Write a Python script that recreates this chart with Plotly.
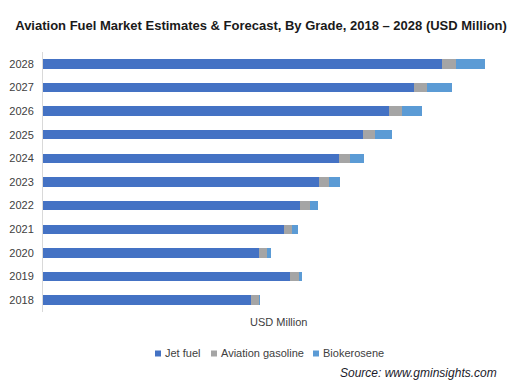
import plotly.graph_objects as go

years = ["2018", "2019", "2020", "2021", "2022", "2023", "2024", "2025", "2026", "2027", "2028"]
jet_fuel = [208, 247, 216, 241, 257, 276, 296, 320, 346, 371, 399]
aviation_gasoline = [8, 9, 8, 8, 10, 10, 11, 12, 13, 13, 14]
biokerosene = [1, 3, 4, 6, 8, 11, 14, 17, 20, 25, 29]

series_names = ["Jet fuel", "Aviation gasoline", "Biokerosene"]
series_colors = ["#4472C4", "#A5A5A5", "#5B9BD5"]
series_values = [jet_fuel, aviation_gasoline, biokerosene]

W, H = 518, 389
L, R, T, B = 43, 13, 52, 77
PW, PH = W - L - R, H - T - B


def px(x):
    return (x - L) / PW


def py(y):
    return (H - B - y) / PH


fig = go.Figure()
for name, color, vals in zip(series_names, series_colors, series_values):
    fig.add_trace(go.Bar(y=years, x=vals, name=name, orientation="h",
                         marker=dict(color=color, line=dict(width=0))))

# custom compact legend (square swatch + label)
legend_pos = [155, 211, 313]
shapes = []
annotations = []
for name, color, x0 in zip(series_names, series_colors, legend_pos):
    shapes.append(dict(type="rect", xref="paper", yref="paper",
                       x0=px(x0), x1=px(x0 + 6), y0=py(356.5), y1=py(350.5),
                       fillcolor=color, line=dict(width=0)))
    annotations.append(dict(text=name, x=px(x0 + 7.5), y=py(353.5), xref="paper", yref="paper",
                            xanchor="left", yanchor="middle", showarrow=False,
                            font=dict(size=11, color="#404040")))

annotations += [
    dict(text="USD Million", x=px(278), y=py(321.5), xref="paper", yref="paper",
         xanchor="center", yanchor="middle", showarrow=False,
         font=dict(size=11, color="#404040")),
    dict(text="<i>Source: www.gminsights.com</i>", x=px(499), y=py(373), xref="paper", yref="paper",
         xanchor="right", yanchor="middle", showarrow=False,
         font=dict(size=12, color="#1a1a2a")),
]

fig.update_layout(
    width=W, height=H,
    barmode="stack", bargap=0.6,
    paper_bgcolor="white", plot_bgcolor="white",
    margin=dict(l=L, r=R, t=T, b=B, autoexpand=False),
    font=dict(family="Liberation Sans, Arial, sans-serif", size=11, color="#404040"),
    title=dict(text="<b>Aviation Fuel Market Estimates & Forecast, By Grade, 2018 – 2028 (USD Million)</b>",
               x=261 / W, xanchor="center", yref="container", y=1 - 25 / H, yanchor="middle",
               font=dict(size=13, color="#1a1a1a")),
    xaxis=dict(range=[0, 462], showticklabels=False, showgrid=False, zeroline=False,
               showline=False, ticks="", automargin=False),
    yaxis=dict(showgrid=False, zeroline=False, showline=True, linecolor="#D9D9D9",
               linewidth=1, ticks="", ticklabelstandoff=6, automargin=False,
               tickfont=dict(size=11, color="#404040")),
    showlegend=False,
    shapes=shapes,
    annotations=annotations,
)

fig.write_html("out.html", config={"displayModeBar": False},
               post_script="document.body.style.margin='0';")
